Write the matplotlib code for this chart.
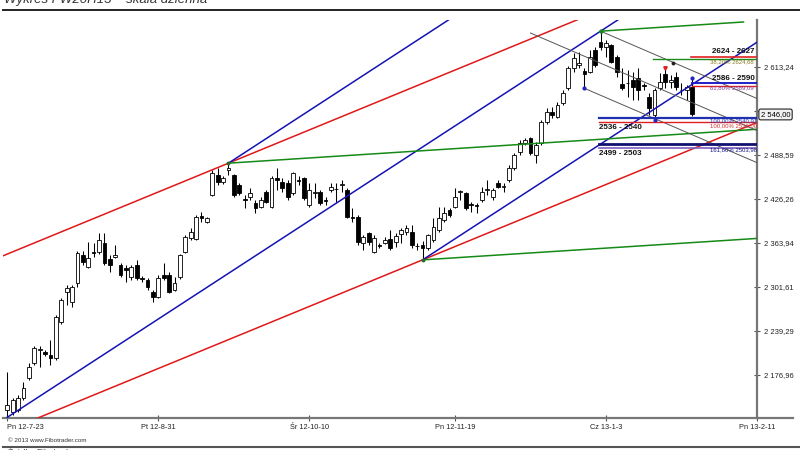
import numpy as np
import matplotlib
matplotlib.use('Agg')
import matplotlib.pyplot as plt
import matplotlib.transforms as mtransforms
from matplotlib.lines import Line2D

# daily candles FW20H13, 2012-07-23 .. 2013-01-25
opens = [2127, 2125, 2127, 2144, 2173, 2194, 2212, 2210, 2205, 2201,
         2252, 2295, 2280, 2307, 2347, 2330, 2351, 2351, 2364, 2341,
         2344, 2333, 2329, 2316, 2333, 2314, 2312, 2295, 2287, 2318,
         2318, 2297, 2316, 2351, 2371, 2370, 2402, 2394, 2432, 2460,
         2450, 2467, 2460, 2446, 2426, 2429, 2421, 2415, 2436, 2415,
         2456, 2450, 2449, 2435, 2453, 2456, 2418, 2435, 2436, 2425,
         2439, 2440, 2446, 2439, 2401, 2401, 2364, 2378, 2351, 2361,
         2364, 2370, 2365, 2377, 2380, 2380, 2360, 2361, 2357, 2368,
         2382, 2396, 2411, 2415, 2436, 2435, 2419, 2418, 2425, 2439,
         2429, 2449, 2443, 2453, 2470, 2493, 2506, 2513, 2489, 2506,
         2535, 2550, 2542, 2562, 2583, 2612, 2616, 2608, 2606, 2637,
         2649, 2642, 2644, 2627, 2589, 2590, 2595, 2598, 2588, 2571,
         2545, 2583, 2603, 2592, 2599, 2581, 2581, 2585]
highs = [2181, 2144, 2149, 2167, 2194, 2218, 2218, 2212, 2227, 2262,
         2286, 2304, 2304, 2353, 2353, 2365, 2364, 2378, 2378, 2347,
         2361, 2336, 2333, 2333, 2340, 2317, 2314, 2297, 2318, 2336,
         2323, 2316, 2348, 2375, 2385, 2404, 2408, 2401, 2467, 2470,
         2459, 2477, 2462, 2449, 2432, 2442, 2425, 2429, 2439, 2459,
         2470, 2456, 2453, 2465, 2459, 2457, 2449, 2449, 2439, 2429,
         2449, 2449, 2453, 2442, 2414, 2404, 2375, 2380, 2375, 2364,
         2372, 2382, 2378, 2385, 2389, 2389, 2364, 2367, 2377, 2399,
         2415, 2415, 2414, 2442, 2439, 2436, 2422, 2421, 2443, 2453,
         2442, 2453, 2449, 2474, 2491, 2510, 2513, 2514, 2507, 2538,
         2555, 2557, 2564, 2581, 2615, 2633, 2634, 2612, 2637, 2642,
         2664, 2651, 2646, 2630, 2612, 2609, 2606, 2612, 2591, 2576,
         2583, 2605, 2612, 2602, 2606, 2590, 2588, 2598]
lows = [2117, 2120, 2125, 2142, 2170, 2191, 2188, 2204, 2191, 2198,
        2249, 2276, 2273, 2302, 2333, 2329, 2344, 2348, 2333, 2323,
        2343, 2316, 2309, 2312, 2312, 2309, 2297, 2280, 2286, 2312,
        2293, 2296, 2313, 2350, 2368, 2368, 2394, 2392, 2430, 2446,
        2448, 2460, 2429, 2432, 2413, 2425, 2406, 2413, 2421, 2413,
        2439, 2436, 2425, 2432, 2446, 2425, 2415, 2428, 2418, 2418,
        2436, 2422, 2436, 2399, 2394, 2361, 2354, 2361, 2350, 2357,
        2362, 2354, 2358, 2364, 2375, 2357, 2354, 2340, 2354, 2365,
        2380, 2394, 2401, 2413, 2425, 2411, 2408, 2406, 2422, 2432,
        2425, 2442, 2436, 2450, 2467, 2489, 2503, 2489, 2477, 2503,
        2532, 2541, 2541, 2559, 2581, 2606, 2612, 2583, 2605, 2613,
        2637, 2627, 2619, 2599, 2581, 2571, 2566, 2566, 2581, 2545,
        2538, 2581, 2583, 2583, 2581, 2574, 2566, 2544]
closes = [2134, 2142, 2144, 2159, 2188, 2215, 2214, 2207, 2201, 2259,
          2283, 2300, 2302, 2350, 2337, 2343, 2350, 2368, 2336, 2333,
          2347, 2319, 2326, 2330, 2314, 2313, 2302, 2287, 2314, 2314,
          2294, 2307, 2347, 2372, 2380, 2401, 2399, 2399, 2463, 2450,
          2456, 2470, 2432, 2435, 2425, 2435, 2414, 2425, 2422, 2456,
          2453, 2442, 2429, 2463, 2452, 2428, 2439, 2436, 2421, 2424,
          2443, 2441, 2448, 2401, 2399, 2365, 2372, 2365, 2371, 2360,
          2368, 2357, 2374, 2382, 2385, 2361, 2359, 2357, 2375, 2387,
          2399, 2406, 2404, 2429, 2437, 2414, 2418, 2417, 2436, 2440,
          2439, 2443, 2444, 2470, 2489, 2506, 2510, 2491, 2503, 2535,
          2550, 2545, 2559, 2576, 2612, 2626, 2619, 2603, 2627, 2616,
          2642, 2647, 2620, 2606, 2583, 2591, 2585, 2581, 2586, 2555,
          2581, 2592, 2592, 2595, 2585, 2580, 2585, 2546]

x_ticks = [0, 28, 56, 83, 111, 139]
x_labels = ['Pn 12-7-23', 'Pt 12-8-31', 'Śr 12-10-10', 'Pn 12-11-19', 'Cz 13-1-3', 'Pn 13-2-11']
y_ticks = [2176.96, 2239.29, 2301.61, 2363.94, 2426.26, 2488.59, 2550.91, 2613.24]
last_price = 2546.00

# pivots used by the channels
first_low = (0, 2117)
high_1 = (41, 2477)
low_1 = (77, 2340)
high_2 = (110, 2664)
low_2 = (107, 2583)

# fibo levels: price, start bar, colour, width
fib_lines = [(2627.0, 126.7, '#e02020', 1.2),
             (2624.68, 119.8, '#1a8a1a', 1.0),
             (2590.0, 126.9, '#2020c8', 1.4),
             (2586.0, 126.9, '#e02020', 1.0),
             (2540.91, 109.7, '#2030b0', 1.6),
             (2536.0, 109.7, '#e02020', 1.0),
             (2503.98, 109.7, '#101070', 2.0),
             (2499.0, 109.7, '#8060c0', 1.2)]
zone_labels = ['2624 - 2627', '2586 - 2590', '2536 - 2540', '2499 - 2503']
zone_pos = [(130.6, 2634.5), (130.6, 2597.0), (109.7, 2528.0), (109.7, 2491.0)]
pct_labels = [('38,20% 2624,68', 2620.0, '#8a7a20'),
              ('61,80% 2589,09', 2583.5, '#8040a0'),
              ('100,00% 2540,91', 2536.5, '#2040c0'),
              ('100,00% 2536,00', 2530.0, '#d03030'),
              ('161,80% 2503,98', 2496.0, '#101080')]

plt.rcParams['font.family'] = ['Liberation Sans', 'DejaVu Sans']

fig = plt.figure(figsize=(8, 4.5), dpi=100)
ax = fig.add_axes([3 / 800, 32 / 450, 754 / 800, 398 / 450])
ax.set_xlim(-0.8, 139)
ax.set_ylim(2116, 2679.8)

x = np.arange(len(opens))
o = np.array(opens, float)
c = np.array(closes, float)
h = np.array(highs, float)
l = np.array(lows, float)

# candles
ax.vlines(x, l, h, color='black', lw=0.75, zorder=2)
up = c >= o
body_h = np.maximum(np.abs(c - o), 0.8)
ax.bar(x, body_h, bottom=np.minimum(o, c), width=0.7,
       color=np.where(up, 'white', 'black'), edgecolor='black', lw=0.6, zorder=2)


def ray(p, slope, x1, **kw):
    x0, y0 = p
    ax.plot([x0, x1], [y0, y0 + slope * (x1 - x0)], **kw)


blue_slope = (high_2[1] - first_low[1]) / (high_2[0] - first_low[0])
red_slope = 3.14
green_slope = 0.49
grey_slope = -3.29

ray((-0.8, high_1[1] - red_slope * 41.8), red_slope, 139, color='#e01818', lw=1.1, zorder=3)
ray((0, low_1[1] - red_slope * 77), red_slope, 139, color='#e01818', lw=1.1, zorder=3)
ray(first_low, blue_slope, 139, color='#1414b4', lw=1.1, zorder=3)
ray(high_1, blue_slope, 139, color='#1414b4', lw=1.1, zorder=3)
ray(low_1, blue_slope, 139, color='#1414b4', lw=1.1, zorder=3)
ray(high_1, green_slope, 139, color='#168a16', lw=1.1, zorder=3)
ray(low_1, green_slope, 139, color='#168a16', lw=1.1, zorder=3)
ray(high_2, green_slope, 136.5, color='#168a16', lw=1.1, zorder=3)

ray(high_2, grey_slope, 139, color='#555555', lw=0.7, zorder=3)
ray(low_2, grey_slope, 139, color='#555555', lw=0.7, zorder=3)
mid0 = ((high_2[1] + grey_slope * (97 - high_2[0])) + (low_2[1] + grey_slope * (97 - low_2[0]))) / 2
ray((97, mid0), grey_slope, 139, color='#555555', lw=0.7, zorder=3)

for price, start, col, lw in fib_lines:
    ax.plot([start, 139], [price, price], color=col, lw=lw, zorder=3)

for txt, (tx, ty) in zip(zone_labels, zone_pos):
    ax.text(tx, ty, txt, fontsize=5.8, fontweight='bold', color='#111', va='center', ha='left', zorder=5)
for txt, ty, col in pct_labels:
    ax.text(130.3, ty, txt, fontsize=4.3, color=col, va='center', ha='left', zorder=5)

# pivot markers
ax.plot([high_2[0]], [high_2[1]], 'o', ms=2.2, color='#1a8a1a', zorder=4)
ax.plot([high_1[0], low_1[0]], [high_1[1], low_1[1]], 'o', ms=1.8, color='#2a6a2a', zorder=4)
ax.plot([107, 120, 127], [2583, 2538, 2598], 'o', ms=2.0, color='#2424c0', zorder=4)
ax.plot([122], [2612], 'v', ms=2.5, color='#e02020', zorder=4)
ax.plot([123.5], [high_2[1] + grey_slope * 13.5], 'o', ms=1.8, color='#222', zorder=4)

# axes look
for s in ['left', 'top']:
    ax.spines[s].set_visible(False)
for s in ['right', 'bottom']:
    ax.spines[s].set_color('#777777')
    ax.spines[s].set_linewidth(1.6)
fig.add_artist(Line2D([757 / 800, 793 / 800], [32 / 450, 32 / 450], color='#777777', lw=1.6))

ax.yaxis.tick_right()
ax.set_yticks(y_ticks)
# the 2 550,91 label sits under the last-price box
ax.set_yticklabels(['' if abs(v - last_price) < 10 else f"{v:,.2f}".replace(',', ' ').replace('.', ',')
                    for v in y_ticks])
ax.tick_params(axis='y', direction='inout', length=4, width=0.8, color='#555',
               labelsize=5.5, labelcolor='#222', pad=3)
ax.set_xticks(x_ticks)
ax.set_xticklabels(x_labels)
ax.tick_params(axis='x', direction='inout', length=5, width=0.8, color='#555',
               labelsize=5.3, labelcolor='#222', pad=2)
ax.get_xticklabels()[0].set_ha('left')

trans = mtransforms.blended_transform_factory(ax.transAxes, ax.transData)
ax.text(1.005, last_price, '2 546,00', transform=trans, fontsize=5.5, va='center', ha='left',
        clip_on=False, zorder=6,
        bbox=dict(boxstyle='round,pad=0.25', fc='#f2f2f2', ec='#222', lw=0.8))

# title strip and footer
fig.text(4 / 800, 1 - 3 / 450, 'Wykres FW20H13 – skala dzienna', fontsize=9.5, style='italic',
         color='#333', va='baseline', ha='left')
fig.add_artist(Line2D([3 / 800, 1], [1 - 9.5 / 450] * 2, color='#222', lw=1.4))
fig.text(8 / 800, 1 - 440 / 450, '© 2013 www.Fibotrader.com', fontsize=4.5, color='#333', va='center')
fig.add_artist(Line2D([3 / 800, 1], [1 - 447 / 450] * 2, color='#555', lw=1.5))
fig.text(8 / 800, 1 - 448.5 / 450, 'Źródło: Fibotrader.com', fontsize=6, color='#333', va='top')

fig.savefig('out.png', dpi=100, facecolor='white')
